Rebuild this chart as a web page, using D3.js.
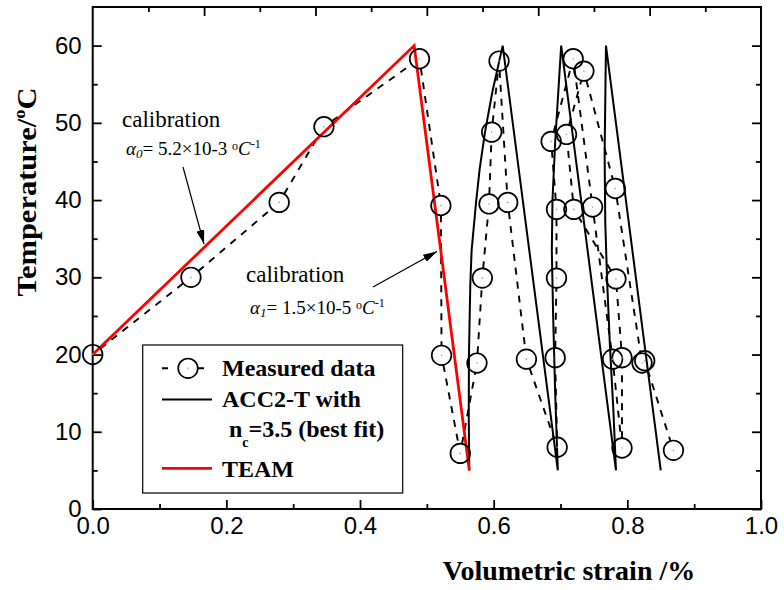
<!DOCTYPE html>
<html><head><meta charset="utf-8">
<script src="https://cdn.jsdelivr.net/npm/d3@7"></script>
<style>body{margin:0;background:#fff} svg{display:block}</style>
</head><body>
<svg id="chart" width="784" height="590"></svg>
<script>
// ---- data ----
const xTicks = [0, 0.2, 0.4, 0.6, 0.8, 1.0];
const xTickLabels = ["0.0", "0.2", "0.4", "0.6", "0.8", "1.0"];
const yTicks = [0, 10, 20, 30, 40, 50, 60];
const yTickLabels = ["0", "10", "20", "30", "40", "50", "60"];

const measuredStrain = [0, 0.147, 0.279, 0.346, 0.489, 0.521, 0.522, 0.550,
  0.575, 0.583, 0.593, 0.597, 0.608, 0.621, 0.649, 0.695,
  0.692, 0.694, 0.694, 0.686, 0.719, 0.748, 0.778, 0.792,
  0.792, 0.783, 0.720, 0.709, 0.735, 0.782, 0.822, 0.826, 0.869];
const measuredTemp = [20, 30.0, 39.7, 49.5, 58.3, 39.3, 19.9, 7.2,
  18.9, 29.9, 39.5, 48.8, 58.0, 39.7, 19.4, 8.0,
  19.6, 29.9, 38.8, 47.6, 58.3, 39.1, 19.4, 7.9,
  19.6, 29.8, 38.8, 48.5, 56.7, 41.5, 18.9, 19.2, 7.6];

const acc2Strain = [0.5635, 0.5627, 0.563, 0.565, 0.567, 0.5735, 0.579, 0.587, 0.598, 0.6135,
  0.696, 0.692, 0.689, 0.687, 0.688, 0.692, 0.701,
  0.783, 0.779, 0.774, 0.770, 0.767, 0.766, 0.768,
  0.850];
const acc2Temp = [5, 12, 20, 29, 33.5, 39.6, 44, 48.8, 54, 60,
  5, 15, 25, 33.5, 40, 47.5, 60,
  5, 13, 21, 29, 37, 46, 60,
  5];

const teamStrain = [0, 0.481, 0.5635];
const teamTemp = [20, 60, 5];

// ---- layout ----
const svg = d3.select("#chart");
const X0 = 92.7, X1 = 761, Y0 = 509, Y1 = 7;
const x = d3.scaleLinear().domain([0, 1.0]).range([X0, X1]);
const y = d3.scaleLinear().domain([0, 65]).range([Y0, Y1]);
const xTop = d3.scaleLinear().domain([0, 12]).range([X0, X1]);

const tickFont = "'Liberation Sans', Arial, sans-serif";
const serif = "'Liberation Serif', 'Times New Roman', serif";

// axes
const gB = svg.append("g").attr("transform", `translate(0,${Y0})`)
  .call(d3.axisBottom(x).tickValues(xTicks).tickFormat((d, i) => xTickLabels[i]).tickSize(-9).tickPadding(7));
svg.append("g").attr("transform", `translate(0,${Y0})`)
  .call(d3.axisBottom(x).tickValues([0.1, 0.3, 0.5, 0.7, 0.9]).tickFormat("").tickSize(-5));
const gL = svg.append("g").attr("transform", `translate(${X0},0)`)
  .call(d3.axisLeft(y).tickValues(yTicks).tickFormat((d, i) => yTickLabels[i]).tickSize(-9).tickPadding(11));
svg.append("g").attr("transform", `translate(${X0},0)`)
  .call(d3.axisLeft(y).tickValues([5, 15, 25, 35, 45, 55]).tickFormat("").tickSize(-5));
svg.append("g").attr("transform", `translate(${X1},0)`)
  .call(d3.axisRight(y).tickValues(yTicks).tickFormat("").tickSize(-9));
svg.append("g").attr("transform", `translate(${X1},0)`)
  .call(d3.axisRight(y).tickValues([5, 15, 25, 35, 45, 55]).tickFormat("").tickSize(-5));
svg.append("g").attr("transform", `translate(0,${Y1})`)
  .call(d3.axisTop(xTop).tickValues([2, 4, 6, 8, 10]).tickFormat("").tickSize(-9));
svg.append("g").attr("transform", `translate(0,${Y1})`)
  .call(d3.axisTop(xTop).tickValues([1, 3, 5, 7, 9, 11]).tickFormat("").tickSize(-5));

svg.selectAll(".domain").remove();
svg.selectAll(".tick line").attr("stroke", "#000").attr("stroke-width", 1.8);
svg.selectAll(".tick text").attr("font-family", tickFont).attr("font-size", 24).attr("fill", "#000");
gB.selectAll(".tick text").attr("dy", "0.75em");

svg.append("rect").attr("x", X0).attr("y", Y1).attr("width", X1 - X0).attr("height", Y0 - Y1)
  .attr("fill", "none").attr("stroke", "#000").attr("stroke-width", 2);

// ---- measured data: dashed with gaps around symbols ----
const R = 9.8;
const mPts = measuredStrain.map((s, i) => [x(s), y(measuredTemp[i])]);
let dPath = "";
for (let i = 0; i < mPts.length - 1; i++) {
  const [ax, ay] = mPts[i], [bx, by] = mPts[i + 1];
  const L = Math.hypot(bx - ax, by - ay);
  if (L <= 2 * R + 1) continue;
  const ux = (bx - ax) / L, uy = (by - ay) / L;
  dPath += `M${ax + ux * R},${ay + uy * R}L${bx - ux * R},${by - uy * R}`;
}
svg.append("path").attr("d", dPath).attr("fill", "none").attr("stroke", "#000")
  .attr("stroke-width", 1.9).attr("stroke-dasharray", "7,7");

// ---- ACC2-T model ----
const line = d3.line().x(d => x(d[0])).y(d => y(d[1]));
svg.append("path").attr("d", line(acc2Strain.map((s, i) => [s, acc2Temp[i]])))
  .attr("fill", "none").attr("stroke", "#000").attr("stroke-width", 2).attr("stroke-linejoin", "miter");

// ---- TEAM ----
svg.append("path").attr("d", line(teamStrain.map((s, i) => [s, teamTemp[i]])))
  .attr("fill", "none").attr("stroke", "#ff0000").attr("stroke-width", 2.8);

// symbols
const sym = svg.append("g");
sym.selectAll("circle.m").data(mPts).join("circle").attr("class", "m")
  .attr("cx", d => d[0]).attr("cy", d => d[1]).attr("r", R)
  .attr("fill", "none").attr("stroke", "#000").attr("stroke-width", 1.7);
sym.selectAll("circle.c").data(mPts).join("circle").attr("class", "c")
  .attr("cx", d => d[0]).attr("cy", d => d[1]).attr("r", 0.8).attr("fill", "#999");

// ---- annotations ----
const defs = svg.append("defs");
defs.append("marker").attr("id", "ah").attr("viewBox", "0 0 14 8").attr("refX", 14).attr("refY", 4)
  .attr("markerWidth", 14).attr("markerHeight", 8).attr("markerUnits", "userSpaceOnUse").attr("orient", "auto")
  .append("path").attr("d", "M0,0L14,4L0,8Z").attr("fill", "#000");

svg.append("line").attr("x1", 183).attr("y1", 167).attr("x2", 204).attr("y2", 244)
  .attr("stroke", "#000").attr("stroke-width", 1.2).attr("marker-end", "url(#ah)");
svg.append("line").attr("x1", 373).attr("y1", 287).attr("x2", 437).attr("y2", 251.5)
  .attr("stroke", "#000").attr("stroke-width", 1.2).attr("marker-end", "url(#ah)");

function calib(xp, yp) {
  svg.append("text").attr("x", xp).attr("y", yp).attr("font-family", serif).attr("font-size", 23)
    .attr("fill", "#000").text("calibration");
}
function formula(xp, yp, sub, val) {
  const t = svg.append("text").attr("x", xp).attr("y", yp).attr("font-family", serif)
    .attr("font-size", 19).attr("fill", "#000");
  t.append("tspan").attr("font-style", "italic").text("α");
  t.append("tspan").attr("font-style", "italic").attr("font-size", 13).attr("dy", 3).text(sub);
  t.append("tspan").attr("dy", -3).text("= " + val + " ");
  t.append("tspan").attr("font-size", 12).attr("dy", -5).text("o");
  t.append("tspan").attr("font-style", "italic").attr("dy", 5).text("C");
  t.append("tspan").attr("font-size", 12).attr("dy", -7).text("-1");
}
calib(122, 127);
formula(126, 155, "0", "5.2×10-3");
calib(246, 282);
formula(250, 314, "1", "1.5×10-5");

// ---- legend ----
const lg = svg.append("g");
lg.append("rect").attr("x", 142.7).attr("y", 345).attr("width", 260).attr("height", 148)
  .attr("fill", "#fff").attr("stroke", "#000").attr("stroke-width", 1.2);
lg.append("path").attr("d", "M162,368.3L168,368.3M198,368.3L204,368.3").attr("stroke", "#000").attr("stroke-width", 1.9);
lg.append("circle").attr("cx", 188).attr("cy", 368.3).attr("r", R).attr("fill", "none").attr("stroke", "#000").attr("stroke-width", 1.7);
lg.append("circle").attr("cx", 188).attr("cy", 368.3).attr("r", 0.8).attr("fill", "#999");
lg.append("line").attr("x1", 162).attr("x2", 212).attr("y1", 399.5).attr("y2", 399.5).attr("stroke", "#000").attr("stroke-width", 2);
lg.append("line").attr("x1", 162).attr("x2", 212).attr("y1", 468.3).attr("y2", 468.3).attr("stroke", "#ff0000").attr("stroke-width", 2.8);
const lt = (yp, txt) => lg.append("text").attr("x", 222).attr("y", yp).attr("font-family", serif)
  .attr("font-weight", "bold").attr("font-size", 24).attr("fill", "#000").text(txt);
lt(376, "Measured data");
lt(407, "ACC2-T with");
lt(477, "TEAM");
const nc = lg.append("text").attr("x", 229).attr("y", 437).attr("font-family", serif)
  .attr("font-weight", "bold").attr("font-size", 24).attr("fill", "#000");
nc.append("tspan").text("n");
nc.append("tspan").attr("font-size", 14).attr("dy", 10).text("c");
nc.append("tspan").attr("dy", -10).text("=3.5 (best fit)");

// ---- axis titles ----
svg.append("text").attr("x", 569).attr("y", 580).attr("text-anchor", "middle")
  .attr("font-family", serif).attr("font-weight", "bold").attr("font-size", 28).attr("fill", "#000")
  .text("Volumetric strain /%");
const yt = svg.append("text").attr("transform", "translate(36,192) rotate(-90) scale(1.09,1)").attr("text-anchor", "middle")
  .attr("font-family", serif).attr("font-weight", "bold").attr("font-size", 28).attr("fill", "#000");
yt.append("tspan").text("Temperature/");
yt.append("tspan").attr("font-size", 17).attr("dy", -11).text("o");
yt.append("tspan").attr("dy", 11).text("C");
</script>
</body></html>
